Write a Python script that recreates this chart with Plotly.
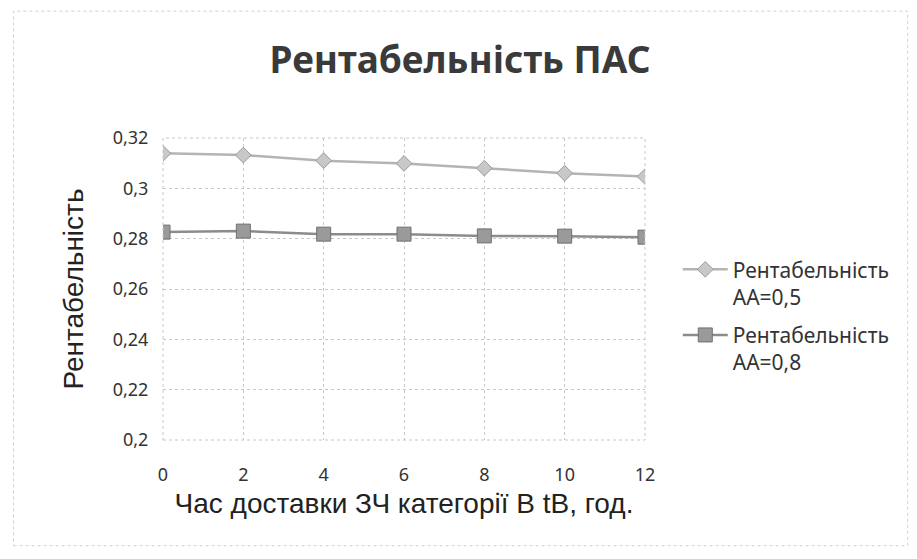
import plotly.graph_objects as go

x_hours = [0, 2, 4, 6, 8, 10, 12]
rent_aa05 = [0.3139, 0.3132, 0.3110, 0.3099, 0.3080, 0.3060, 0.3047]
rent_aa08 = [0.2826, 0.2830, 0.2818, 0.2818, 0.2811, 0.2810, 0.2806]
series_names = ["Рентабельність<br>АА=0,5", "Рентабельність<br>АА=0,8"]
title_text = "Рентабельність ПАС"
x_title = "Час доставки ЗЧ категорії В tB, год."
y_title = "Рентабельність"

fig = go.Figure()
fig.add_trace(go.Scatter(
    x=x_hours, y=rent_aa05, name=series_names[0], mode="lines+markers", legendgroup="a",
    line=dict(color="#b4b4b4", width=2.5),
    marker=dict(symbol="diamond", size=12, color="#c8c8c8", line=dict(color="#9a9a9a", width=1)),
))
fig.add_trace(go.Scatter(
    x=x_hours, y=rent_aa08, name=series_names[1], mode="lines+markers", legendgroup="b",
    line=dict(color="#8c8c8c", width=2.5),
    marker=dict(symbol="square", size=14, color="#9a9a9a", line=dict(color="#707070", width=1)),
))

fig.update_layout(
    width=909, height=551,
    margin=dict(l=155, r=272, t=130, b=119, autoexpand=False),
    paper_bgcolor="white", plot_bgcolor="white",
    separators=", ",
    title=dict(text="<b>" + title_text + "</b>", x=(460 - 8) / 909, xanchor="center",
               yref="container", y=1 - 52 / 551, yanchor="middle",
               font=dict(family="Noto Sans", size=37, color="#3a3a3a")),
    font=dict(family="Noto Sans", color="#333333"),
    legend=dict(x=1.068, y=0.41, xanchor="left", yanchor="middle", valign="top",
                font=dict(family="Noto Sans", size=21, color="#333333"),
                tracegroupgap=8, itemwidth=45),
    showlegend=True,
)
fig.update_xaxes(
    range=[0, 12], tickvals=x_hours, ticktext=[str(v) for v in x_hours],
    showgrid=True, gridcolor="#c8c8c8", griddash="dot", gridwidth=1,
    showline=False, zeroline=False, ticks="outside", ticklen=18, tickcolor="rgba(0,0,0,0)",
    automargin=False,
    tickfont=dict(family="Noto Sans", size=18, color="#333333"),
    title=dict(text=x_title, font=dict(family="Liberation Sans", size=28, color="#222222"), standoff=8),
)
fig.update_yaxes(
    range=[0.2, 0.32], dtick=0.02, tick0=0.2,
    showgrid=True, gridcolor="#c8c8c8", griddash="dot", gridwidth=1,
    showline=False, zeroline=False, ticks="outside", ticklen=10, tickcolor="rgba(0,0,0,0)",
    automargin=False,
    tickfont=dict(family="Noto Sans", size=18, color="#333333"),
    title=dict(text=y_title, font=dict(family="Liberation Sans", size=28, color="#222222"), standoff=20),
)
fig.add_shape(type="rect", xref="paper", yref="paper", x0=0, x1=1, y0=0, y1=1,
              line=dict(color="#c8c8c8", width=1, dash="dot"))
fig.add_shape(type="rect", xref="paper", yref="paper", x0=-0.31, x1=1.545, y0=-0.35, y1=1.42,
              line=dict(color="#d0d0d0", width=1, dash="dot"), layer="below")

fig.write_html("out.html")
